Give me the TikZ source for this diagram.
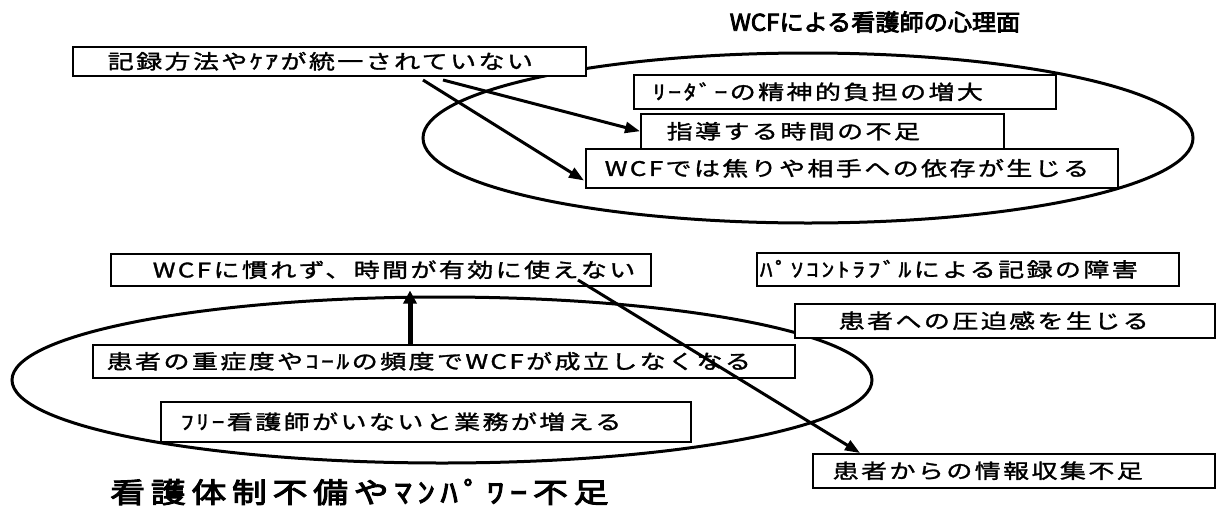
\documentclass[tikz,border=0pt]{standalone}
\usepackage{fontspec}
\newfontfamily\jp[FakeStretch=1.3,LetterSpace=12,FakeBold=1.5]{Noto Sans CJK JP}
\newfontfamily\jpb[FakeStretch=1.05,FakeBold=3.5]{Noto Sans CJK JP}
\newfontfamily\jpbb[FakeStretch=1.25,LetterSpace=20,FakeBold=3.5]{Noto Sans CJK JP}
\usetikzlibrary{arrows.meta,calc,shapes.geometric}
\begin{document}
\begin{tikzpicture}[x=1pt,y=-1pt,
  box/.style={draw, line width=1.5pt, fill=white, inner sep=0pt, anchor=north west,
    align=left, font=\jp\fontsize{20}{22}\selectfont},
  ring/.style={draw, line width=3pt, ellipse, inner sep=0pt},
  arr/.style={line width=3pt, -{Triangle[length=15pt,width=11pt]}},
  uparr/.style={line width=5pt, -{Triangle[length=13pt,width=13pt]}},
  ttl/.style={font=\jpb\fontsize{23}{25}\selectfont, inner sep=0pt},
]
\useasboundingbox (0,0) rectangle (1228,509);
\fill[white] (0,0) rectangle (1228,509);

% groups
\node[ring, minimum width=770pt, minimum height=170pt] (E1) at (808,138) {};
\node[ring, minimum width=860pt, minimum height=166pt] (E2) at (442,380) {};

% titles
\node[ttl] (T1) at (875,22) {WCFによる看護師の心理面};
\node[ttl, font=\jpbb\fontsize{28}{30}\selectfont, anchor=west] (T2) at (110,492) {看護体制不備やﾏﾝﾊﾟﾜｰ不足};

% top boxes
\node[box, text width=513pt, minimum height=29pt] (rec) at (72,46) {\noindent\hspace*{35pt}記録方法やｹｱが統一されていない};
\node[box, text width=422pt, minimum height=34pt] (lead) at (633,74) {\noindent\hspace*{19pt}ﾘｰﾀﾞｰの精神的負担の増大};
\node[box, text width=363pt, minimum height=35pt] (shid) at (640,113) {\noindent\hspace*{26pt}指導する時間の不足};
\node[box, text width=532pt, minimum height=39pt] (wcf) at (585,148) {\noindent\hspace*{19pt}WCFでは焦りや相手への依存が生じる};

% bottom boxes
\node[box, text width=540pt, minimum height=32pt] (nare) at (110,253) {\noindent\hspace*{42pt}WCFに慣れず、時間が有効に使えない};
\node[box, text width=422pt, minimum height=33pt] (pc) at (756,252) {\noindent\hspace*{3pt}ﾊﾟｿｺﾝﾄﾗﾌﾞﾙによる記録の障害};
\node[box, text width=420pt, minimum height=34pt] (atsu) at (794,303) {\noindent\hspace*{44pt}患者への圧迫感を生じる};
\node[box, text width=702pt, minimum height=33pt] (juu) at (92,344) {\noindent\hspace*{14pt}患者の重症度やｺｰﾙの頻度でWCFが成立しなくなる};
\node[box, text width=530pt, minimum height=40pt] (free) at (160,401) {\noindent\raisebox{-6pt}{\hspace*{20pt}ﾌﾘｰ看護師がいないと業務が増える}};
\node[box, text width=402pt, minimum height=34pt] (info) at (812,453) {\noindent\hspace*{20pt}患者からの情報収集不足};

% connectors
\coordinate (s1) at (423,80);
\coordinate (s2) at (443,80);
\draw[arr] (s1) -- ($(wcf.south west)+(-1,-8)$);
\draw[arr] (s2) -- (shid.west);
\draw[uparr] ($(juu.north west)+(318,0)$) -- ($(nare.south west)+(300,4)$);
\coordinate (s3) at (578,280);
\draw[arr] (s3) -- ($(info.north west)+(48,0)$);
\end{tikzpicture}
\end{document}
